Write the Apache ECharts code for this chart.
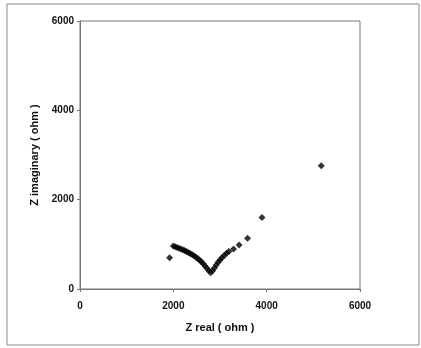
<!DOCTYPE html>
<html>
<head>
<meta charset="utf-8">
<script src="https://cdn.jsdelivr.net/npm/echarts@6/dist/echarts.min.js"></script>
<style>
  html, body { margin: 0; padding: 0; background: #fff; }
  #chart { width: 421px; height: 348px; }
</style>
</head>
<body>
<div id="chart"></div>
<script>
// Nyquist plot values: [Z real, Z imaginary] in ohm
var zReal = [1920, 2000, 2040, 2080, 2120, 2160, 2200, 2240, 2280, 2320, 2360, 2400, 2440, 2480,
    2520, 2560, 2600, 2640, 2680, 2720, 2760, 2800, 2840, 2880, 2920, 2960, 3000, 3040, 3090,
    3140, 3190, 3290, 3410, 3590, 3900, 5170];
var zImag = [700, 960, 945, 930, 910, 895, 878, 860, 840, 818, 795, 772, 745, 715,
    685, 650, 610, 565, 515, 465, 410, 365, 410, 470, 540, 600, 650, 700, 750,
    800, 840, 895, 985, 1135, 1600, 2760];
var xTicks = [0, 6000, 2000];   // min, max, step
var yTicks = [0, 6000, 2000];

var points = [];
for (var i = 0; i < zReal.length; i++) {
    points.push([zReal[i], zImag[i]]);
}

var fontFamily = 'Liberation Sans, Arial, sans-serif';
var labelFont = { color: '#111', fontSize: 10, fontWeight: 'bold', fontFamily: fontFamily };
var plain = function (v) { return String(v); };

var chart = echarts.init(document.getElementById('chart'));
chart.setOption({
    animation: false,
    backgroundColor: '#fff',
    graphic: [
        {
            type: 'rect',
            shape: { x: 7, y: 4, width: 412, height: 341 },
            style: { fill: 'none', stroke: '#8a8a8a', lineWidth: 1 }
        }
    ],
    grid: {
        left: 80, right: 61, top: 21, bottom: 59,
        show: true, borderColor: '#777', borderWidth: 1
    },
    xAxis: {
        type: 'value',
        min: xTicks[0], max: xTicks[1], interval: xTicks[2],
        name: 'Z real ( ohm )',
        nameLocation: 'middle',
        nameGap: 33,
        nameTextStyle: { color: '#111', fontSize: 11, fontWeight: 'bold', fontFamily: fontFamily },
        axisLine: { lineStyle: { color: '#777' } },
        axisTick: { show: true, length: 3, lineStyle: { color: '#777' } },
        axisLabel: Object.assign({ margin: 12, formatter: plain }, labelFont),
        splitLine: { show: false }
    },
    yAxis: {
        type: 'value',
        min: yTicks[0], max: yTicks[1], interval: yTicks[2],
        name: 'Z imaginary ( ohm )',
        nameLocation: 'middle',
        nameGap: 40,
        nameRotate: 90,
        nameTextStyle: { color: '#111', fontSize: 11, fontWeight: 'bold', fontFamily: fontFamily },
        axisLine: { lineStyle: { color: '#777' } },
        axisTick: { show: true, length: 3, lineStyle: { color: '#777' } },
        axisLabel: Object.assign({ margin: 6, formatter: plain }, labelFont),
        splitLine: { show: false }
    },
    series: [
        {
            type: 'scatter',
            symbol: 'diamond',
            symbolSize: 7,
            itemStyle: { color: '#000' },
            data: points
        }
    ]
});
</script>
</body>
</html>
